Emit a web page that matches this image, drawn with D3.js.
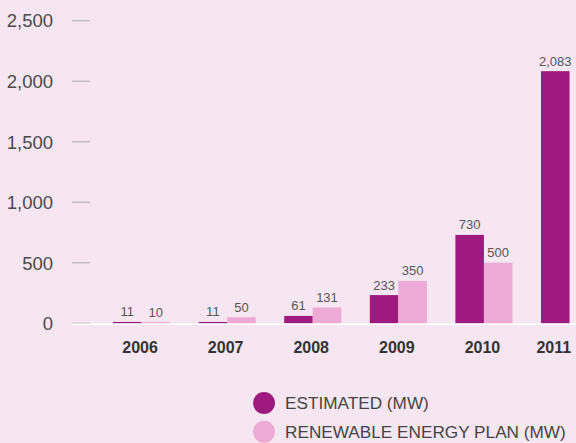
<!DOCTYPE html>
<html>
<head>
<meta charset="utf-8">
<script src="https://cdn.jsdelivr.net/npm/d3@7"></script>
<style>
  html, body { margin: 0; padding: 0; background: #f5e6f1; }
  svg { display: block; font-family: "Liberation Sans", Arial, Helvetica, sans-serif; }
</style>
</head>
<body>
<svg id="chart" width="576" height="443"></svg>
<script>
const years = ["2006", "2007", "2008", "2009", "2010", "2011"];
const estimated = [11, 11, 61, 233, 730, 2083];
const plan = [10, 50, 131, 350, 500, null];
const yTicks = [0, 500, 1000, 1500, 2000, 2500];
const seriesNames = ["ESTIMATED (MW)", "RENEWABLE ENERGY PLAN (MW)"];
const seriesColors = ["#9e1a7e", "#eeaad6"];

const svg = d3.select("#chart");
const W = 576, H = 443;

svg.append("rect").attr("width", W).attr("height", H).attr("fill", "#f5e6f1");

const y = d3.scaleLinear().domain([0, 2500]).range([323.3, 20.7]);
const step = 85.6;
const x0 = d3.scaleBand().domain(years)
  .range([113, 113 + step * (years.length - 1/3)])
  .paddingInner(1/3).paddingOuter(0);
const x1 = d3.scaleBand().domain([0, 1]).range([0, x0.bandwidth()]);

// y axis labels + tick dashes
const yAxis = d3.axisLeft(y).tickValues(yTicks).tickSize(0)
  .tickFormat(d3.format(","));
const gy = svg.append("g").attr("transform", "translate(53,0)").call(yAxis);
gy.select(".domain").remove();
gy.selectAll("text").attr("x", 0).attr("dy", "0.34em")
  .attr("font-size", "18.5px").attr("fill", "#4a4a4a")
  .attr("font-family", "\"Liberation Sans\", Arial, sans-serif");
svg.append("g").selectAll("line").data(yTicks).join("line")
  .attr("x1", 72).attr("x2", 90)
  .attr("y1", d => y(d)).attr("y2", d => y(d))
  .attr("stroke", "#b9b4b7").attr("stroke-width", 1.2);

// bars
const rows = years.map((yr, i) => ({ yr, vals: [estimated[i], plan[i]] }));
const groups = svg.append("g").selectAll("g").data(rows).join("g")
  .attr("transform", d => `translate(${x0(d.yr)},0)`);
groups.selectAll("rect").data(d => d.vals.map((v, k) => ({ v, k })).filter(e => e.v != null))
  .join("rect")
  .attr("x", e => x1(e.k)).attr("width", x1.bandwidth())
  .attr("y", e => y(e.v)).attr("height", e => y(0) - y(e.v))
  .attr("fill", e => seriesColors[e.k]);
groups.selectAll("text").data(d => d.vals.map((v, k) => ({ v, k })).filter(e => e.v != null))
  .join("text")
  .attr("x", e => x1(e.k) + x1.bandwidth() / 2)
  .attr("y", e => y(e.v) - 5.5)
  .attr("text-anchor", "middle")
  .attr("font-size", "13px").attr("fill", "#555")
  .text(e => d3.format(",")(e.v));

// baseline
svg.append("line").attr("x1", 72).attr("x2", W)
  .attr("y1", y(0) + 1).attr("y2", y(0) + 1)
  .attr("stroke", "#ffffff").attr("stroke-width", 1.6);

// x axis labels, centred on the bars present in each group
svg.append("g").selectAll("text").data(rows).join("text")
  .attr("x", d => {
    const n = d.vals.filter(v => v != null).length;
    return x0(d.yr) + n * x1.bandwidth() / 2 - 1.5;
  })
  .attr("y", 353)
  .attr("text-anchor", "middle")
  .attr("font-size", "16px").attr("font-weight", "bold").attr("fill", "#333")
  .text(d => d.yr);

// legend
const lg = svg.append("g").selectAll("g").data(seriesNames).join("g")
  .attr("transform", (d, i) => `translate(264,${403 + i * 28.8})`);
lg.append("circle").attr("r", 11).attr("fill", (d, i) => seriesColors[i]);
lg.append("text").attr("x", 21).attr("y", 0).attr("dy", "0.36em")
  .attr("font-size", "17.2px").attr("fill", "#444")
  .text(d => d);
</script>
</body>
</html>
